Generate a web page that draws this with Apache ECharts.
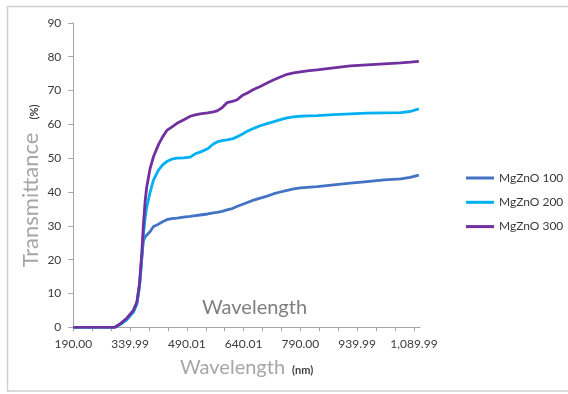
<!DOCTYPE html>
<html>
<head>
<meta charset="utf-8">
<script src="https://cdn.jsdelivr.net/npm/echarts@6/dist/echarts.min.js"></script>
<style>
html,body{margin:0;padding:0;background:#fff;}
#chart{width:568px;height:394px;}
</style>
</head>
<body>
<div id="chart"></div>
<script>
// Wavelength (nm) sample points
var wavelength = [190, 250, 300, 314, 331, 349, 358, 365, 371, 375, 380, 384, 393, 402, 415, 426, 437, 450, 464, 481, 499, 512, 525, 545, 560, 570, 583, 596, 610, 622, 636, 650, 666, 684, 702, 720, 737, 755, 772, 790, 808, 834, 878, 922, 966, 1011, 1055, 1080, 1103];
// Transmittance (%)
var mgzno100 = [0, 0, 0, 1.0, 2.6, 5.0, 7.3, 12.5, 20.5, 25.5, 26.8, 27.3, 28.3, 29.8, 30.5, 31.2, 31.8, 32.1, 32.3, 32.6, 32.8, 33.0, 33.2, 33.5, 33.8, 34.0, 34.3, 34.7, 35.1, 35.7, 36.3, 36.9, 37.6, 38.2, 38.8, 39.5, 40.0, 40.5, 40.9, 41.2, 41.4, 41.6, 42.1, 42.6, 43.1, 43.6, 43.9, 44.3, 45.0];
var mgzno200 = [0, 0, 0, 0.8, 2.2, 4.5, 6.8, 12, 20.5, 27, 32.5, 35.5, 40, 43.6, 46.5, 48, 49, 49.7, 50.0, 50.1, 50.3, 51.3, 51.8, 52.8, 54.2, 54.8, 55.2, 55.4, 55.7, 56.3, 57.1, 58.0, 58.8, 59.6, 60.2, 60.8, 61.4, 61.9, 62.2, 62.4, 62.5, 62.6, 62.9, 63.1, 63.3, 63.4, 63.5, 63.8, 64.6];
var mgzno300 = [0, 0, 0, 1.0, 2.6, 5.0, 7.5, 13, 22, 30, 37.5, 41.5, 47, 50.5, 54, 56.3, 58.2, 59.2, 60.3, 61.3, 62.4, 62.8, 63.1, 63.4, 63.7, 64.0, 64.9, 66.4, 66.8, 67.2, 68.5, 69.3, 70.3, 71.2, 72.2, 73.2, 74.0, 74.8, 75.2, 75.5, 75.8, 76.1, 76.7, 77.3, 77.6, 77.9, 78.2, 78.4, 78.6];
var seriesNames = ['MgZnO 100', 'MgZnO 200', 'MgZnO 300'];
// x tick positions and labels
var xTickValues = [190, 240, 290, 340, 390, 440, 490, 540, 590, 640, 690, 740, 790, 840, 890, 940, 990, 1040, 1090];
var xLabelValues = [190, 340, 490, 640, 790, 940, 1090];
var xLabelTexts = ['190.00', '339.99', '490.01', '640.01', '790.00', '939.99', '1,089.99'];

function pairs(ys) { return wavelength.map(function (x, i) { return [x, ys[i]]; }); }
var FONT = 'Lato, "Open Sans", sans-serif';
var colors = ['#4472C4', '#00B0F0', '#7030A0'];
var chart = echarts.init(document.getElementById('chart'));
chart.setOption({
  animation: false,
  backgroundColor: '#fff',
  color: colors,
  grid: { left: 73.3, right: 148, top: 22.9, bottom: 66.7, containLabel: false },
  xAxis: {
    type: 'value', min: 190, max: 1106,
    splitLine: { show: false },
    axisLine: { lineStyle: { color: '#a6a6a6', width: 1 } },
    axisTick: { show: true, length: 4, lineStyle: { color: '#a6a6a6' }, customValues: xTickValues },
    axisLabel: {
      customValues: xLabelValues, margin: 11, fontSize: 12, color: '#3a3a3a', fontFamily: FONT,
      formatter: function (v) { var i = xLabelValues.indexOf(v); return i >= 0 ? xLabelTexts[i] : ''; }
    }
  },
  yAxis: {
    type: 'value', min: 0, max: 90, interval: 10,
    splitLine: { show: false },
    axisLine: { show: true, lineStyle: { color: '#a6a6a6', width: 1 } },
    axisTick: { show: true, length: 5, lineStyle: { color: '#a6a6a6' } },
    axisLabel: { margin: 12, fontSize: 12, color: '#3a3a3a', fontFamily: FONT }
  },
  legend: {
    orient: 'vertical', left: 461, top: 167, itemWidth: 28, itemHeight: 14, itemGap: 12.3,
    icon: 'path://M0,5.5 L28,5.5 L28,8.5 L0,8.5 Z',
    textStyle: { fontSize: 12, color: '#3a3a3a', fontFamily: FONT },
    data: seriesNames
  },
  series: [mgzno100, mgzno200, mgzno300].map(function (d, i) {
    return {
      name: seriesNames[i], type: 'line', data: pairs(d), symbol: 'none', smooth: false,
      lineStyle: { width: 2.8, color: colors[i] }, z: 2 + i
    };
  }),
  graphic: [
    { type: 'rect', shape: { x: 7.5, y: 6.5, width: 600, height: 384.5 }, style: { fill: 'none', stroke: '#d0d0d0', lineWidth: 1.5 }, silent: true },
    { type: 'text', x: 31, y: 200, rotation: Math.PI / 2, style: { text: 'Transmittance', font: '22px ' + FONT, fill: '#a6a6a6', textAlign: 'center', textVerticalAlign: 'middle' } },
    { type: 'text', x: 34, y: 112, rotation: Math.PI / 2, style: { text: '(%)', font: 'bold 11px ' + FONT, fill: '#404040', textAlign: 'center', textVerticalAlign: 'middle' } },
    { type: 'text', x: 180, y: 368, style: { text: 'Wavelength', font: '20px ' + FONT, fill: '#a6a6a6', textAlign: 'left', textVerticalAlign: 'middle' } },
    { type: 'text', x: 292, y: 370, style: { text: '(nm)', font: 'bold 11px ' + FONT, fill: '#404040', textAlign: 'left', textVerticalAlign: 'middle' } },
    { type: 'text', x: 202, y: 308, style: { text: 'Wavelength', font: '20px ' + FONT, fill: '#7f7f7f', textAlign: 'left', textVerticalAlign: 'middle' } }
  ]
});
</script>
</body>
</html>
